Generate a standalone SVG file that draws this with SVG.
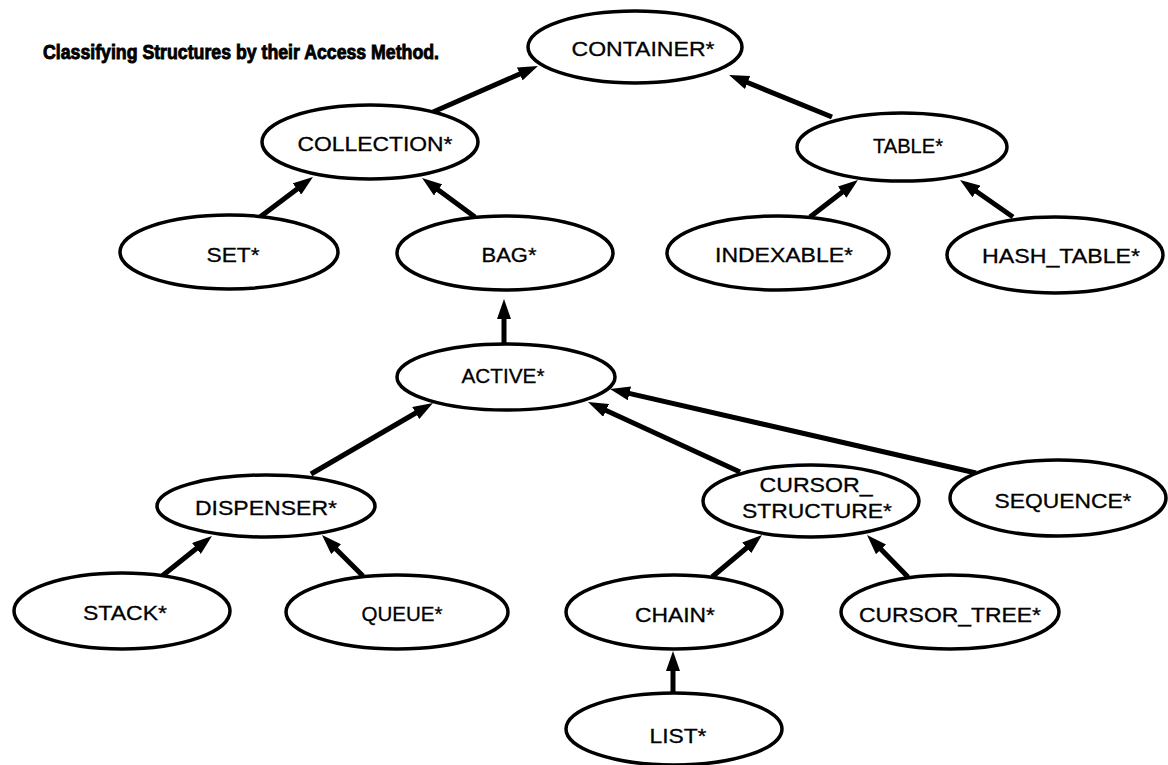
<svg xmlns="http://www.w3.org/2000/svg" width="1168" height="765" viewBox="0 0 1168 765">
  <style>
    .node ellipse { fill: #ffffff; stroke: #000000; stroke-width: 3.5; }
    .node text { font-family: "Liberation Sans", Arial, sans-serif; font-size: 21px; fill: #000000; text-anchor: middle; stroke: #000000; stroke-width: 0.3; }
    .edge { stroke: #000000; stroke-width: 5; fill: none; marker-end: url(#head); }
    .title { font-family: "Liberation Sans Narrow", "Liberation Sans", Arial, sans-serif; font-weight: bold; font-size: 20px; fill: #000000; stroke: #000000; stroke-width: 0.9; }
  </style>
  <defs>
    <marker id="head" markerUnits="userSpaceOnUse" markerWidth="20" markerHeight="14" refX="6" refY="7" orient="auto">
      <path d="M0,0 L20,7 L0,14 Z" fill="#000000"/>
    </marker>
  </defs>
  <rect width="1168" height="765" fill="#ffffff"/>

  <text class="title" x="43" y="59" textLength="396" lengthAdjust="spacingAndGlyphs">Classifying Structures by their Access Method.</text>

  <!-- inheritance arrows, child to parent -->
  <g id="connectors">
    <path class="edge" d="M433,112 L525.2,71.6"/>
    <path class="edge" d="M832,117 L742,80.3"/>
    <path class="edge" d="M260,217 L301.8,185.4"/>
    <path class="edge" d="M475,217 L433.3,186.3"/>
    <path class="edge" d="M810,217 L846.9,188.5"/>
    <path class="edge" d="M1013,217 L971.5,188"/>
    <path class="edge" d="M504,346 L504,313"/>
    <path class="edge" d="M311,474 L420.9,410"/>
    <path class="edge" d="M740,472 L600.7,407.9"/>
    <path class="edge" d="M976,473 L623.6,392.1"/>
    <path class="edge" d="M162,576 L201.1,544.7"/>
    <path class="edge" d="M363,576 L331.9,544.9"/>
    <path class="edge" d="M712,577 L751.3,544"/>
    <path class="edge" d="M908,577 L876.8,545"/>
    <path class="edge" d="M673,693 L673,665"/>
  </g>

  <g id="container" class="node">
    <ellipse cx="635" cy="47" rx="107" ry="36"/>
    <text x="643" y="56" textLength="143" lengthAdjust="spacingAndGlyphs">CONTAINER*</text>
  </g>
  <g id="collection" class="node">
    <ellipse cx="370" cy="142" rx="108" ry="37"/>
    <text x="375" y="151" textLength="155" lengthAdjust="spacingAndGlyphs">COLLECTION*</text>
  </g>
  <g id="table" class="node">
    <ellipse cx="902" cy="147" rx="105" ry="34"/>
    <text x="908" y="153" textLength="70" lengthAdjust="spacingAndGlyphs">TABLE*</text>
  </g>
  <g id="set" class="node">
    <ellipse cx="229" cy="252" rx="109" ry="37"/>
    <text x="233" y="262" textLength="53" lengthAdjust="spacingAndGlyphs">SET*</text>
  </g>
  <g id="bag" class="node">
    <ellipse cx="505" cy="253" rx="108" ry="37"/>
    <text x="509" y="262" textLength="55" lengthAdjust="spacingAndGlyphs">BAG*</text>
  </g>
  <g id="indexable" class="node">
    <ellipse cx="778" cy="253" rx="111" ry="37"/>
    <text x="784" y="262" textLength="138" lengthAdjust="spacingAndGlyphs">INDEXABLE*</text>
  </g>
  <g id="hash_table" class="node">
    <ellipse cx="1055" cy="255" rx="108" ry="38"/>
    <text x="1061" y="263" textLength="158" lengthAdjust="spacingAndGlyphs">HASH_TABLE*</text>
  </g>
  <g id="active" class="node">
    <ellipse cx="506" cy="377" rx="109" ry="33"/>
    <text x="503" y="383" textLength="83" lengthAdjust="spacingAndGlyphs">ACTIVE*</text>
  </g>
  <g id="dispenser" class="node">
    <ellipse cx="266" cy="506" rx="109" ry="31"/>
    <text x="266" y="515" textLength="142" lengthAdjust="spacingAndGlyphs">DISPENSER*</text>
  </g>
  <g id="cursor_structure" class="node">
    <ellipse cx="811" cy="501" rx="108" ry="36"/>
    <text x="816" y="492" textLength="113" lengthAdjust="spacingAndGlyphs">CURSOR_</text>
    <text x="817" y="518" textLength="150" lengthAdjust="spacingAndGlyphs">STRUCTURE*</text>
  </g>
  <g id="sequence" class="node">
    <ellipse cx="1058" cy="498" rx="108" ry="38"/>
    <text x="1063" y="508" textLength="137" lengthAdjust="spacingAndGlyphs">SEQUENCE*</text>
  </g>
  <g id="stack" class="node">
    <ellipse cx="122" cy="611" rx="108" ry="38"/>
    <text x="125" y="620" textLength="84" lengthAdjust="spacingAndGlyphs">STACK*</text>
  </g>
  <g id="queue" class="node">
    <ellipse cx="397" cy="612" rx="111" ry="37"/>
    <text x="402" y="621" textLength="81" lengthAdjust="spacingAndGlyphs">QUEUE*</text>
  </g>
  <g id="chain" class="node">
    <ellipse cx="674" cy="612" rx="108" ry="37"/>
    <text x="675" y="622" textLength="80" lengthAdjust="spacingAndGlyphs">CHAIN*</text>
  </g>
  <g id="cursor_tree" class="node">
    <ellipse cx="950" cy="612" rx="109" ry="37"/>
    <text x="950" y="622" textLength="182" lengthAdjust="spacingAndGlyphs">CURSOR_TREE*</text>
  </g>
  <g id="list" class="node">
    <ellipse cx="674" cy="729" rx="108" ry="36"/>
    <text x="678" y="743" textLength="57" lengthAdjust="spacingAndGlyphs">LIST*</text>
  </g>
</svg>
